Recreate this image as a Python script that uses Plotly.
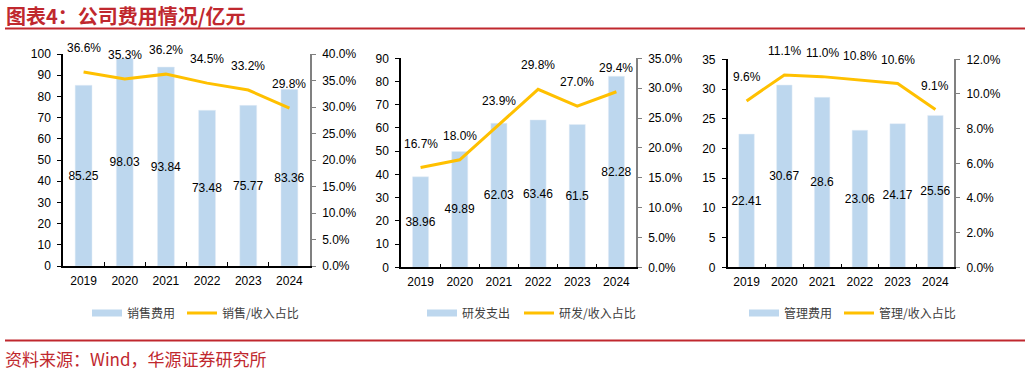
import plotly.graph_objects as go

years = ["2019", "2020", "2021", "2022", "2023", "2024"]
sales = [85.25, 98.03, 93.84, 73.48, 75.77, 83.36]
sales_ratio = [36.6, 35.3, 36.2, 34.5, 33.2, 29.8]
rd = [38.96, 49.89, 62.03, 63.46, 61.5, 82.28]
rd_ratio = [16.7, 18.0, 23.9, 29.8, 27.0, 29.4]
admin = [22.41, 30.67, 28.6, 23.06, 24.17, 25.56]
admin_ratio = [9.6, 11.1, 11.0, 10.8, 10.6, 9.1]

bar_names = ["销售费用", "研发支出", "管理费用"]
line_names = ["销售/收入占比", "研发/收入占比", "管理/收入占比"]
title_text = "图表4：公司费用情况/亿元"
source_text = "资料来源：Wind，华源证券研究所"

W, H = 1031, 374
BLUE = "#BDD7EE"
GOLD = "#FFC000"
RED = "#C0282E"
FONT = "Liberation Sans, Arial, sans-serif"
CJK = "Noto Sans CJK SC"

panels = [
    dict(bars=sales, ratio=sales_ratio, xd=(63, 310), yd=(54, 266), yr=(0, 100), yt=10, rr=(0, 40), rt=5,
         leg_bar=131, leg_line=226),
    dict(bars=rd, ratio=rd_ratio, xd=(401, 636), yd=(58.3, 267.3), yr=(0, 90), yt=10, rr=(0, 35), rt=5,
         leg_bar=466, leg_line=563),
    dict(bars=admin, ratio=admin_ratio, xd=(727.7, 954.3), yd=(59.3, 267.3), yr=(0, 35), yt=5, rr=(0, 12), rt=2,
         leg_bar=788, leg_line=883),
]

fig = go.Figure()
annotations = []
layout = {}

for i, p in enumerate(panels):
    xa = "x" if i == 0 else f"x{i+1}"
    yl = "y" if i == 0 else f"y{2*i+1}"
    yr_ = f"y{2*i+2}"
    legb = "legend" if i == 0 else f"legend{2*i+1}"
    legl = f"legend{2*i+2}"
    fig.add_trace(go.Bar(
        x=years, y=p["bars"], xaxis=xa, yaxis=yl, marker_color=BLUE, showlegend=False,
        text=[f"{v:g}" for v in p["bars"]], textposition="inside", insidetextanchor="middle",
        textangle=0, constraintext="none", textfont=dict(size=12, color="#000000", family=FONT),
        cliponaxis=False,
    ))
    # legend proxy for the bar series (flat wide swatch)
    fig.add_trace(go.Scatter(
        x=[None], y=[None], xaxis=xa, yaxis=yl, mode="lines", name=bar_names[i],
        line=dict(color=BLUE, width=7), legend=legb,
    ))
    fig.add_trace(go.Scatter(
        x=years, y=p["ratio"], xaxis=xa, yaxis=yr_, mode="lines", name=line_names[i],
        line=dict(color=GOLD, width=3), legend=legl,
    ))
    for j, rv in enumerate(p["ratio"]):
        annotations.append(dict(x=j, y=rv, xref=xa, yref=yr_, text=f"{rv:.1f}%", showarrow=False,
                                yshift=24, font=dict(size=12, color="#000000", family=FONT)))

    xdom = [p["xd"][0] / W, p["xd"][1] / W]
    ydom = [1 - p["yd"][1] / H, 1 - p["yd"][0] / H]
    xkey = "xaxis" if i == 0 else f"xaxis{i+1}"
    ylkey = "yaxis" if i == 0 else f"yaxis{2*i+1}"
    yrkey = f"yaxis{2*i+2}"
    layout[xkey] = dict(domain=xdom, anchor=yl, type="category", range=[-0.5, 5.5],
                        showline=True, linecolor="#000000", linewidth=1.5,
                        ticks="inside", tickson="boundaries", ticklen=4, tickcolor="#000000",
                        tickfont=dict(size=12, color="#000000", family=FONT), showgrid=False,
                        ticklabelstandoff=3)
    layout[ylkey] = dict(domain=ydom, anchor=xa, range=list(p["yr"]), dtick=p["yt"],
                         showline=True, linecolor="#000000", linewidth=1.5,
                         ticks="outside", ticklen=4, tickcolor="#000000",
                         tickfont=dict(size=12, color="#000000", family=FONT), showgrid=False,
                         zeroline=False, ticklabelstandoff=4)
    layout[yrkey] = dict(overlaying=yl, anchor=xa, side="right", range=list(p["rr"]), dtick=p["rt"],
                         tickformat=".1f", ticksuffix="%",
                         showline=True, linecolor="#808080", linewidth=1.5,
                         ticks="outside", ticklen=4, tickcolor="#808080",
                         tickfont=dict(size=12, color="#000000", family=FONT), showgrid=False,
                         zeroline=False, ticklabelstandoff=4)
    for key, tx in ((legb, p["leg_bar"]), (legl, p["leg_line"])):
        layout[key] = dict(orientation="h", x=(tx - 44) / W, y=1 - 313 / H, xanchor="left", yanchor="middle",
                           font=dict(size=12, color="#404040", family=CJK), bgcolor="rgba(0,0,0,0)",
                           itemwidth=30)

annotations.append(dict(x=4 / W, y=1 - 15.5 / H, xref="paper", yref="paper", xanchor="left", yanchor="middle",
                        text=f"<b>{title_text}</b>", showarrow=False,
                        font=dict(size=20, color=RED, family=CJK)))
annotations.append(dict(x=3 / W, y=1 - 358 / H, xref="paper", yref="paper", xanchor="left", yanchor="middle",
                        text=source_text, showarrow=False,
                        font=dict(size=17, color=RED, family=CJK)))

shapes = [
    dict(type="line", xref="paper", yref="paper", x0=5 / W, x1=1025 / W, y0=1 - 28.5 / H, y1=1 - 28.5 / H,
         line=dict(color=RED, width=2)),
    dict(type="line", xref="paper", yref="paper", x0=5 / W, x1=1025 / W, y0=1 - 340.5 / H, y1=1 - 340.5 / H,
         line=dict(color=RED, width=2)),
]

fig.update_layout(
    width=W, height=H, margin=dict(l=0, r=0, t=0, b=0, autoexpand=False),
    paper_bgcolor="white", plot_bgcolor="white",
    barmode="group", bargap=0.59,
    annotations=annotations, shapes=shapes,
    **layout,
)

fig.write_html("out.html", config={"displayModeBar": False},
               post_script="document.body.style.margin='0';document.body.style.padding='0';")
